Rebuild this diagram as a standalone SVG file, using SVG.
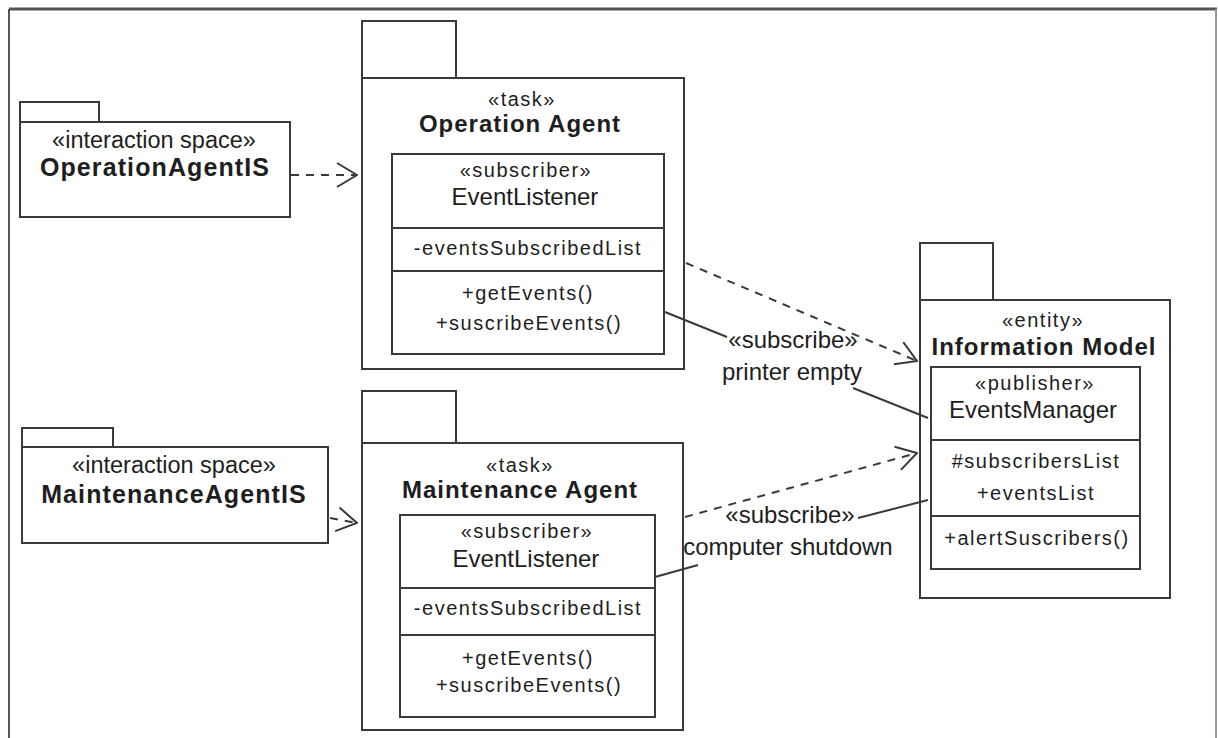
<svg xmlns="http://www.w3.org/2000/svg" width="1218" height="738" viewBox="0 0 1218 738">
<style>
.ln{fill:none;stroke:#3a3a3a;stroke-width:2}
.box{fill:#fff;stroke:#3a3a3a;stroke-width:2}
.dash{fill:none;stroke:#3a3a3a;stroke-width:2;stroke-dasharray:8 7}
text{font-family:"Liberation Sans",Arial,sans-serif;fill:#1e1e1e;text-anchor:middle}
.title{font-size:24px;font-weight:bold;letter-spacing:1px}
.istitle{font-size:25px;font-weight:bold;letter-spacing:1.1px}
.isst{font-size:23.5px}
.st{font-size:20px;letter-spacing:1.5px}
.nm{font-size:24px}
.mb{font-size:20px;letter-spacing:1.5px}
.lbl{font-size:24px}
</style>
<defs>
<marker id="open" viewBox="0 0 22 26" refX="21" refY="13" markerWidth="22" markerHeight="26" markerUnits="userSpaceOnUse" orient="auto">
<path d="M1,1 L21,13 L1,25" fill="none" stroke="#3a3a3a" stroke-width="2" stroke-dasharray="none"/>
</marker>
</defs>
<rect x="0" y="0" width="1218" height="738" fill="#fff"/>
<g id="frame">
<line x1="9" y1="9" x2="1217" y2="9" stroke="#555" stroke-width="3"/>
<line x1="9" y1="9" x2="9" y2="738" stroke="#555" stroke-width="2"/>
<line x1="1216" y1="9" x2="1216" y2="738" stroke="#999" stroke-width="2"/>
</g>

<g id="OperationAgentIS">
<rect class="box" x="20" y="102" width="79" height="20"/>
<rect class="box" x="20" y="122" width="270" height="95"/>
<text class="isst" x="154" y="148">«interaction space»</text>
<text class="istitle" x="155" y="176">OperationAgentIS</text>
</g>

<g id="MaintenanceAgentIS">
<rect class="box" x="22" y="428" width="91" height="19"/>
<rect class="box" x="22" y="447" width="306" height="96"/>
<text class="isst" x="174" y="473">«interaction space»</text>
<text class="istitle" x="174" y="503">MaintenanceAgentIS</text>
</g>

<g id="OperationAgent">
<rect class="box" x="362" y="21" width="94" height="57"/>
<rect class="box" x="362" y="78" width="322" height="291"/>
<text class="st" x="522" y="106">«task»</text>
<text class="title" x="520" y="132">Operation Agent</text>
<rect class="box" x="392" y="154" width="272" height="200"/>
<line class="ln" x1="392" y1="228" x2="664" y2="228"/>
<line class="ln" x1="392" y1="271" x2="664" y2="271"/>
<text class="st" x="526" y="177">«subscriber»</text>
<text class="nm" x="525" y="205">EventListener</text>
<text class="mb" x="528" y="255">-eventsSubscribedList</text>
<text class="mb" x="528" y="300">+getEvents()</text>
<text class="mb" x="529" y="330">+suscribeEvents()</text>
</g>

<g id="MaintenanceAgent">
<rect class="box" x="362" y="391" width="94" height="52"/>
<rect class="box" x="362" y="443" width="321" height="287"/>
<text class="st" x="520" y="472">«task»</text>
<text class="title" x="520" y="498">Maintenance Agent</text>
<rect class="box" x="400" y="515" width="255" height="202"/>
<line class="ln" x1="400" y1="588" x2="655" y2="588"/>
<line class="ln" x1="400" y1="635" x2="655" y2="635"/>
<text class="st" x="527" y="538">«subscriber»</text>
<text class="nm" x="526" y="567">EventListener</text>
<text class="mb" x="528" y="615">-eventsSubscribedList</text>
<text class="mb" x="528" y="665">+getEvents()</text>
<text class="mb" x="529" y="692">+suscribeEvents()</text>
</g>

<g id="InformationModel">
<rect class="box" x="920" y="243" width="73" height="57"/>
<rect class="box" x="920" y="300" width="250" height="298"/>
<text class="st" x="1043" y="327">«entity»</text>
<text class="title" x="1044" y="355">Information Model</text>
<rect class="box" x="931" y="367" width="209" height="202"/>
<line class="ln" x1="931" y1="440" x2="1140" y2="440"/>
<line class="ln" x1="931" y1="516" x2="1140" y2="516"/>
<text class="st" x="1035" y="390">«publisher»</text>
<text class="nm" x="1033" y="418">EventsManager</text>
<text class="mb" x="1036" y="468">#subscribersList</text>
<text class="mb" x="1036" y="500">+eventsList</text>
<text class="mb" x="1037" y="545">+alertSuscribers()</text>
</g>

<g id="connectors">
<line class="dash" x1="291" y1="175" x2="357" y2="175" marker-end="url(#open)"/>
<line class="dash" x1="330" y1="518" x2="357" y2="523" marker-end="url(#open)"/>
<line class="dash" x1="686" y1="263" x2="917" y2="361" marker-end="url(#open)"/>
<line class="dash" x1="685" y1="517" x2="917" y2="453" marker-end="url(#open)"/>
<line class="ln" x1="665" y1="312" x2="727" y2="337"/>
<line class="ln" x1="853" y1="388" x2="928" y2="418"/>
<line class="ln" x1="655" y1="577" x2="698" y2="565"/>
<line class="ln" x1="858" y1="518" x2="928" y2="500"/>
<text class="lbl" x="793" y="348">«subscribe»</text>
<text class="lbl" x="792" y="380">printer empty</text>
<text class="lbl" x="790" y="523">«subscribe»</text>
<text class="lbl" x="788" y="555">computer shutdown</text>
</g>
</svg>
